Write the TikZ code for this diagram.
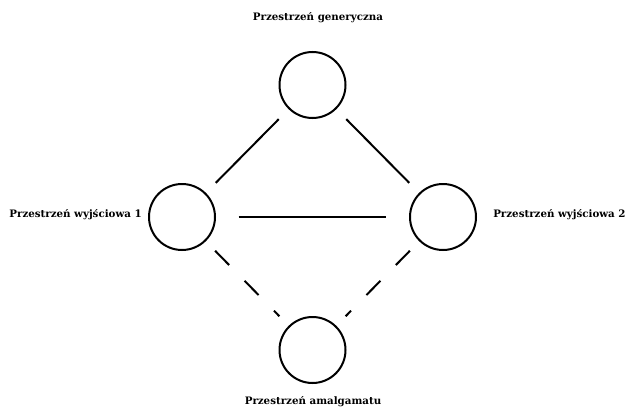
\documentclass[tikz,border=0pt]{standalone}
\usepackage{fontspec}
\setmainfont{DejaVu Serif}
\usetikzlibrary{positioning}
\begin{document}
\begin{tikzpicture}[x=0.75pt,y=-0.75pt,
    space/.style={draw,circle,line width=1.5pt,minimum size=49.5pt,inner sep=0pt},
    caption/.style={inner sep=0pt,font=\fontsize{7.7}{10}\selectfont\bfseries},
    link/.style={line width=1.5pt,shorten <=#1,shorten >=#1},
    blendlink/.style={link=10pt,dash pattern=on 15pt off 16.5pt}]
  \useasboundingbox (0,0) rectangle (627,410);
  % the four mental spaces
  \node[space] (gen) at (312.5,85) {};
  \node[space] (in1) at (182,217) {};
  \node[space] (in2) at (443,217) {};
  \node[space] (blend) at (312.5,350) {};
  % names
  \node[caption] (genname) at (318,18) {Przestrzeń generyczna};
  \node[caption,anchor=east] (in1name) at (142,215) {Przestrzeń wyjściowa 1};
  \node[caption,anchor=west] (in2name) at (493,215) {Przestrzeń wyjściowa 2};
  \node[caption] (blendname) at (313,402) {Przestrzeń amalgamatu};
  % connections
  \draw[link=10.5pt] (gen) -- (in1);
  \draw[link=10.5pt] (gen) -- (in2);
  \draw[link=17pt] (in1) -- (in2);
  \draw[blendlink] (in1) -- (blend);
  \draw[blendlink] (in2) -- (blend);
\end{tikzpicture}
\end{document}
